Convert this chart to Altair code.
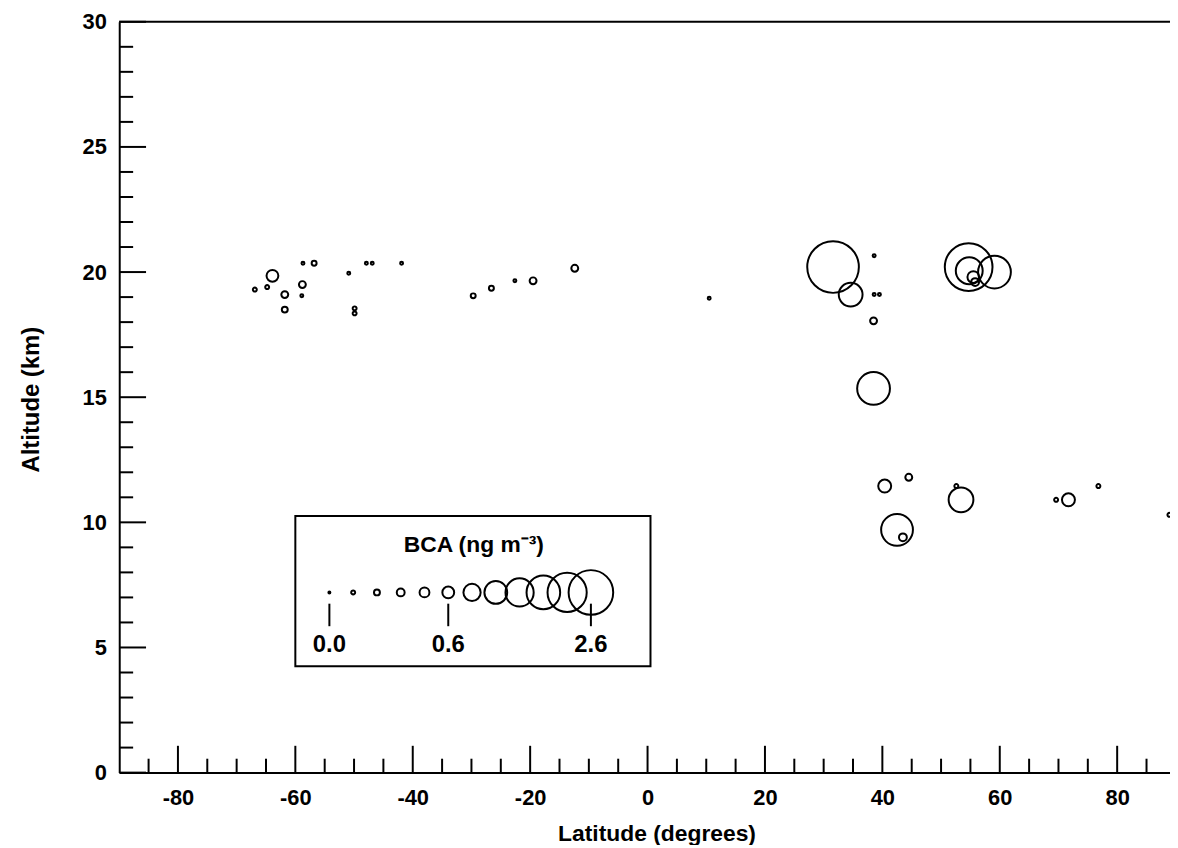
import altair as alt
import pandas as pd

# ---- data ----
lat = [-66.9, -64.8, -63.9, -61.8, -61.8, -58.7, -56.8, -58.8, -58.9, -50.9,
       -49.9, -49.9, -47.9, -46.9, -41.9, -29.7, -26.6, -22.6, -19.5, -12.4,
       10.5, 31.6, 34.6, 38.6, 38.6, 39.5, 38.5, 54.7, 54.8, 59.1,
       55.5, 55.8, 38.5, 40.4, 44.5, 53.4, 52.6, 42.5, 43.5, 69.6,
       71.7, 76.8, 88.9]
altitude = [19.3, 19.4, 19.85, 19.1, 18.5, 20.35, 20.35, 19.5, 19.05, 19.95,
            18.55, 18.35, 20.35, 20.35, 20.35, 19.05, 19.35, 19.65, 19.65, 20.15,
            18.95, 20.2, 19.1, 20.65, 19.1, 19.1, 18.05, 20.2, 20.05, 20.0,
            19.8, 19.6, 15.35, 11.45, 11.8, 10.9, 11.45, 9.7, 9.4, 10.9,
            10.9, 11.45, 10.3]
bca = [0.12, 0.12, 0.6, 0.3, 0.24, 0.06, 0.18, 0.3, 0.06, 0.06,
       0.12, 0.12, 0.06, 0.06, 0.06, 0.18, 0.18, 0.06, 0.3, 0.3,
       0.06, 3.03, 1.33, 0.06, 0.06, 0.06, 0.3, 2.79, 1.52, 1.88,
       0.6, 0.36, 1.88, 0.67, 0.3, 1.39, 0.12, 1.82, 0.36, 0.12,
       0.67, 0.12, 0.12]

legend_values = [0.0, 0.12, 0.24, 0.36, 0.48, 0.6, 0.93, 1.27, 1.6, 1.93, 2.27, 2.6]
legend_labels = ["0.0", "0.6", "2.6"]
legend_label_index = [0, 5, 11]
legend_title = "BCA (ng m\u207b\u00b3)"

x_major = [-80, -60, -40, -20, 0, 20, 40, 60, 80]
x_minor = [v for v in range(-85, 90, 5) if v % 20 != 0]
y_major = [0, 5, 10, 15, 20, 25, 30]
y_minor = [v for v in range(1, 30) if v % 5 != 0]

# ---- layout constants ----
W, H = 1058, 756
FONT = "Liberation Sans"
OFFSET = 0.121  # size scale offset so tiny values still show a dot

xs = alt.Scale(domain=[-90, 89], nice=False, zero=False)
ys = alt.Scale(domain=[0, 30], nice=False, zero=False)
ss = alt.Scale(type="pow", exponent=2, domain=[0, 3.2], range=[0, 272.25 * 3.2 ** 2])

HYPHEN_LABEL = "datum.value < 0 ? '-' + abs(datum.value) : '' + datum.value"

AX = alt.Axis(
    values=x_major, ticks=False, grid=False, domainColor="black", domainWidth=2,
    labelFont=FONT, labelFontSize=22, labelFontWeight="bold", labelColor="black",
    labelPadding=15, labelFlush=False, labelOverlap=False, labelExpr=HYPHEN_LABEL,
    title="Latitude (degrees)", titleFont=FONT, titleFontSize=23, titleFontWeight="bold",
    titleColor="black", titleX=541, titleY=68, titleBaseline="alphabetic", titleAlign="center")
AY = alt.Axis(
    values=y_major, ticks=False, grid=False, domainColor="black", domainWidth=2,
    labelFont=FONT, labelFontSize=22, labelFontWeight="bold", labelColor="black",
    labelPadding=13, labelFlush=False, labelOverlap=False,
    title="Altitude (km)", titleFont=FONT, titleFontSize=24, titleFontWeight="bold",
    titleColor="black", titleX=-88, titleY=380, titleAngle=270,
    titleBaseline="middle", titleAlign="center")


def X(field):
    return alt.X(field, scale=xs, axis=AX)


def Y(field):
    return alt.Y(field, scale=ys, axis=AY)


df = pd.DataFrame({"lat": lat, "alt": altitude, "bca": bca})

points = alt.Chart(df).transform_calculate(
    s=f"datum.bca + {OFFSET}"
).mark_point(shape="circle", filled=False, color="black", strokeWidth=2, opacity=1).encode(
    x=X("lat:Q"), y=Y("alt:Q"),
    size=alt.Size("s:Q", scale=ss, legend=None),
)

# inward ticks
xmaj = alt.Chart(pd.DataFrame({"lat": x_major})).mark_rule(color="black", strokeWidth=2).encode(
    x=X("lat:Q"), y=alt.value(H), y2=alt.value(H - 27))
xmin = alt.Chart(pd.DataFrame({"lat": x_minor})).mark_rule(color="black", strokeWidth=2).encode(
    x=X("lat:Q"), y=alt.value(H), y2=alt.value(H - 14))
ymaj = alt.Chart(pd.DataFrame({"alt": y_major})).mark_rule(color="black", strokeWidth=2).encode(
    y=Y("alt:Q"), x=alt.value(0), x2=alt.value(27))
ymin = alt.Chart(pd.DataFrame({"alt": y_minor})).mark_rule(color="black", strokeWidth=2).encode(
    y=Y("alt:Q"), x=alt.value(0), x2=alt.value(14))
top = alt.Chart(pd.DataFrame({"t": [0]})).mark_rule(color="black", strokeWidth=2).encode(
    y=alt.value(0), x=alt.value(0), x2=alt.value(W))

# ---- custom legend (placed in data units) ----
leg_x0, leg_dx, leg_y = -54.2, 4.05, 7.2
leg_df = pd.DataFrame({
    "lat": [leg_x0 + i * leg_dx for i in range(len(legend_values))],
    "alt": [leg_y] * len(legend_values),
    "bca": legend_values,
})
leg_pts = alt.Chart(leg_df).transform_calculate(
    s=f"datum.bca + {OFFSET}"
).mark_point(shape="circle", filled=False, color="black", strokeWidth=2, opacity=1).encode(
    x=X("lat:Q"), y=Y("alt:Q"),
    size=alt.Size("s:Q", scale=ss, legend=None),
)
lab_df = pd.DataFrame({
    "lat": [leg_x0 + i * leg_dx for i in legend_label_index],
    "label": legend_labels,
    "alt": [6.75] * 3, "alt2": [5.85] * 3, "ty": [5.1] * 3,
})
leg_ticks = alt.Chart(lab_df).mark_rule(color="black", strokeWidth=2).encode(
    x=X("lat:Q"), y=Y("alt:Q"), y2="alt2:Q")
leg_labels = alt.Chart(lab_df).transform_calculate(alt="datum.ty").mark_text(
    font=FONT, fontSize=24, fontWeight="bold", color="black", baseline="middle", align="center"
).encode(x=X("lat:Q"), y=Y("alt:Q"), text="label:N")
box = alt.Chart(pd.DataFrame({"lat": [-60.0], "lat2": [0.5], "alt": [10.25], "alt2": [4.25]})).mark_rect(
    fillOpacity=0, stroke="black", strokeWidth=2
).encode(x=X("lat:Q"), x2="lat2:Q", y=Y("alt:Q"), y2="alt2:Q")
leg_title = alt.Chart(pd.DataFrame({"lat": [-29.6], "alt": [9.1], "t": [legend_title]})).mark_text(
    font=FONT, fontSize=23, fontWeight="bold", color="black", baseline="middle", align="center"
).encode(x=X("lat:Q"), y=Y("alt:Q"), text="t:N")

chart = alt.layer(
    points, xmaj, xmin, ymaj, ymin, top, box, leg_pts, leg_ticks, leg_labels, leg_title
).properties(
    width=W, height=H,
    autosize=alt.AutoSizeParams(type="none"),
    padding={"left": 112, "top": 11, "right": 0, "bottom": 70},
    background="white",
).configure_view(stroke=None)

chart.save("out.html", embed_options={"renderer": "svg", "actions": False})
